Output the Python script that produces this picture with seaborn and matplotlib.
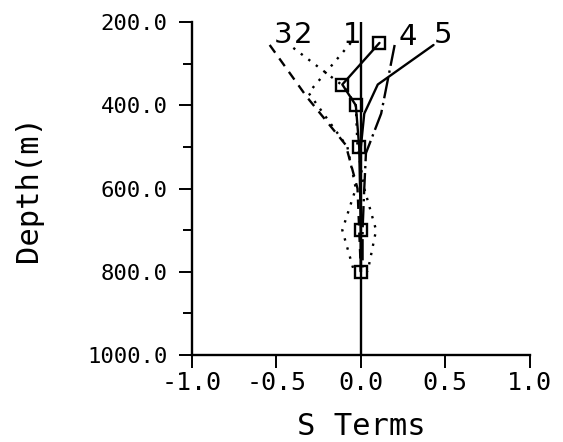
import matplotlib
matplotlib.use("Agg")
import matplotlib.pyplot as plt
import matplotlib.ticker as mticker
import seaborn as sns
import pandas as pd

# S-term profiles against depth (m)
depth_sq = [250, 350, 400, 500, 700, 800]
s_sq = [0.11, -0.11, -0.03, -0.01, 0.0, 0.0]

depth_1 = [250, 370, 500, 600, 700, 800]
s_1 = [-0.06, -0.31, -0.08, -0.03, -0.11, -0.04]

depth_2 = [262, 355, 400, 500, 600, 700, 800]
s_2 = [-0.40, -0.10, -0.03, -0.02, 0.02, 0.09, 0.04]

depth_3 = [255, 380, 495, 600, 700, 800]
s_3 = [-0.54, -0.32, -0.09, -0.02, -0.01, 0.0]

depth_4 = [255, 420, 515, 600, 700, 800]
s_4 = [0.20, 0.12, 0.03, 0.02, 0.01, 0.01]

depth_5 = [255, 350, 420, 500, 600, 700, 800]
s_5 = [0.43, 0.10, 0.02, 0.0, 0.0, 0.0, 0.0]

curve_labels = ["3", "2", "1", "4", "5"]
label_s = [-0.46, -0.34, -0.05, 0.28, 0.485]
label_depth = [232, 232, 232, 236, 232]

x_ticks = [-1.0, -0.5, 0.0, 0.5, 1.0]
y_ticks = [200, 400, 600, 800, 1000]

sns.set_theme(style="ticks")
plt.rcParams["font.family"] = ["DejaVu Sans Mono", "DejaVu Sans"]
plt.rcParams["axes.unicode_minus"] = False
plt.rcParams["text.color"] = "black"
plt.rcParams["axes.labelcolor"] = "black"

fig = plt.figure(figsize=(5.63, 4.42), dpi=100)
ax = fig.add_axes([0.341, 0.197, 0.600, 0.753])

lw = 1.7
# reference line at zero
ax.axvline(0.0, color="black", lw=lw, zorder=1)

def draw(s, d, **kw):
    df = pd.DataFrame({"s": s, "depth": d})
    sns.lineplot(data=df, x="s", y="depth", orient="y", sort=False,
                 estimator=None, color="black", ax=ax, **kw)

draw(s_1, depth_1, lw=lw, linestyle=(0, (1, 3)))
draw(s_2, depth_2, lw=lw, linestyle=(0, (1, 3)))
draw(s_3, depth_3, lw=lw, linestyle=(0, (4, 3)))
draw(s_4, depth_4, lw=lw, linestyle=(0, (9, 2, 1, 2)))
draw(s_5, depth_5, lw=lw, linestyle="-")
draw(s_sq, depth_sq, lw=lw, linestyle="-", marker="s", markersize=9,
     markerfacecolor="none", markeredgecolor="black", markeredgewidth=1.7)

for t, xs, yd in zip(curve_labels, label_s, label_depth):
    ax.text(xs, yd, t, fontsize=21, family="DejaVu Sans",
            ha="center", va="center", color="black")

ax.set_xlim(-1.0, 1.0)
ax.set_ylim(1000, 200)
ax.set_xticks(x_ticks)
ax.set_yticks(y_ticks)
ax.yaxis.set_minor_locator(mticker.MultipleLocator(100))
ax.xaxis.set_major_formatter(mticker.FormatStrFormatter("%.1f"))
ax.yaxis.set_major_formatter(mticker.FormatStrFormatter("%.1f"))

for side in ("top", "right"):
    ax.spines[side].set_visible(False)
for side in ("left", "bottom"):
    ax.spines[side].set_linewidth(1.7)
    ax.spines[side].set_color("black")

ax.tick_params(axis="y", which="major", direction="out", length=9.5,
               width=1.4, colors="black", labelsize=16, pad=8)
ax.tick_params(axis="x", which="major", direction="out", length=9.5,
               width=1.4, colors="black", labelsize=18, pad=2)
ax.tick_params(axis="y", which="minor", direction="out", length=6.5,
               width=1.4, colors="black")

ax.set_xlabel("S Terms", fontsize=22, labelpad=12)
ax.set_ylabel("Depth(m)", fontsize=22, labelpad=32)

fig.savefig("out.png", dpi=100, facecolor="white")
